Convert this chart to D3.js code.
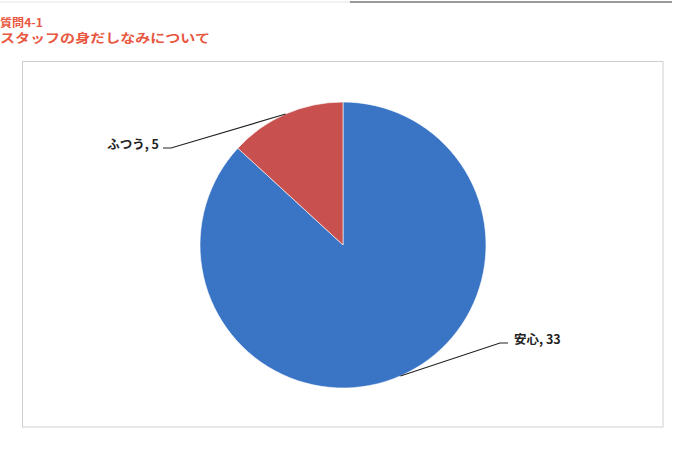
<!DOCTYPE html>
<html><head><meta charset="utf-8">
<script src="https://cdn.jsdelivr.net/npm/d3@7"></script>
<style>body{margin:0;background:#fff}svg{display:block}</style>
</head><body>
<svg id="c" width="683" height="450"></svg>
<script>
const categories = ["安心", "ふつう"];
const values = [33, 5];
const colors = ["#3a74c5", "#c8504e"];
const titleLines = ["質問4-1", "スタッフの身だしなみについて"];

const svg = d3.select("#c");
svg.append("rect").attr("width",683).attr("height",450).attr("fill","#fff");
// top rule
svg.append("line").attr("x1",0).attr("x2",350).attr("y1",2).attr("y2",2).attr("stroke","#e4e4e4").attr("stroke-width",1);
svg.append("line").attr("x1",350).attr("x2",672).attr("y1",2).attr("y2",2).attr("stroke","#777").attr("stroke-width",1.5);

// titles
const tf = "'Noto Sans CJK JP', sans-serif";
svg.append("text").attr("x",0).attr("y",27).text(titleLines[0])
  .attr("font-family",tf).attr("font-size",11).attr("font-weight","bold").attr("fill","#e8573f")
  .attr("textLength",43).attr("lengthAdjust","spacingAndGlyphs");
svg.append("text").attr("x",0).attr("y",43).text(titleLines[1])
  .attr("font-family",tf).attr("font-size",12).attr("font-weight","bold").attr("fill","#e8573f")
  .attr("textLength",210).attr("lengthAdjust","spacingAndGlyphs");

// chart frame
svg.append("rect").attr("x",22.5).attr("y",61.5).attr("width",640.5).attr("height",365.5)
  .attr("fill","none").attr("stroke","#cfcfcf");

const cx = 343, cy = 245, r = 143;
const data = categories.map((c,i)=>({cat:c, v:values[i], col:colors[i]}));
const pie = d3.pie().value(d=>d.v).sort(null);
const arcs = pie(data);
const arc = d3.arc().innerRadius(0).outerRadius(r);
const g = svg.append("g").attr("transform",`translate(${cx},${cy})`);
g.selectAll("path").data(arcs).join("path").attr("d",arc).attr("fill",d=>d.data.col)
  .attr("stroke","#ffffff").attr("stroke-width",0.6);

// labels with leader lines
const labelPos = [
  {tx:514, ty:344, anchor:"start", lx:508, ly:343},
  {tx:159, ty:149, anchor:"end", lx:163, ly:148}
];
arcs.forEach((a,i)=>{
  const m = (a.startAngle + a.endAngle)/2;
  const ex = cx + r*Math.sin(m), ey = cy - r*Math.cos(m);
  const p = labelPos[i];
  const hx = p.anchor==="start" ? p.lx - 8 : p.lx + 8;
  svg.append("polyline")
    .attr("points",`${ex},${ey} ${hx},${p.ly} ${p.lx},${p.ly}`)
    .attr("fill","none").attr("stroke","#222").attr("stroke-width",1.1);
  svg.append("text").attr("x",p.tx).attr("y",p.ty).attr("text-anchor",p.anchor)
    .attr("font-family",tf).attr("font-size",12.5).attr("font-weight","bold").attr("fill","#222")
    .text(`${a.data.cat}, ${a.data.v}`);
});
</script>
</body></html>
